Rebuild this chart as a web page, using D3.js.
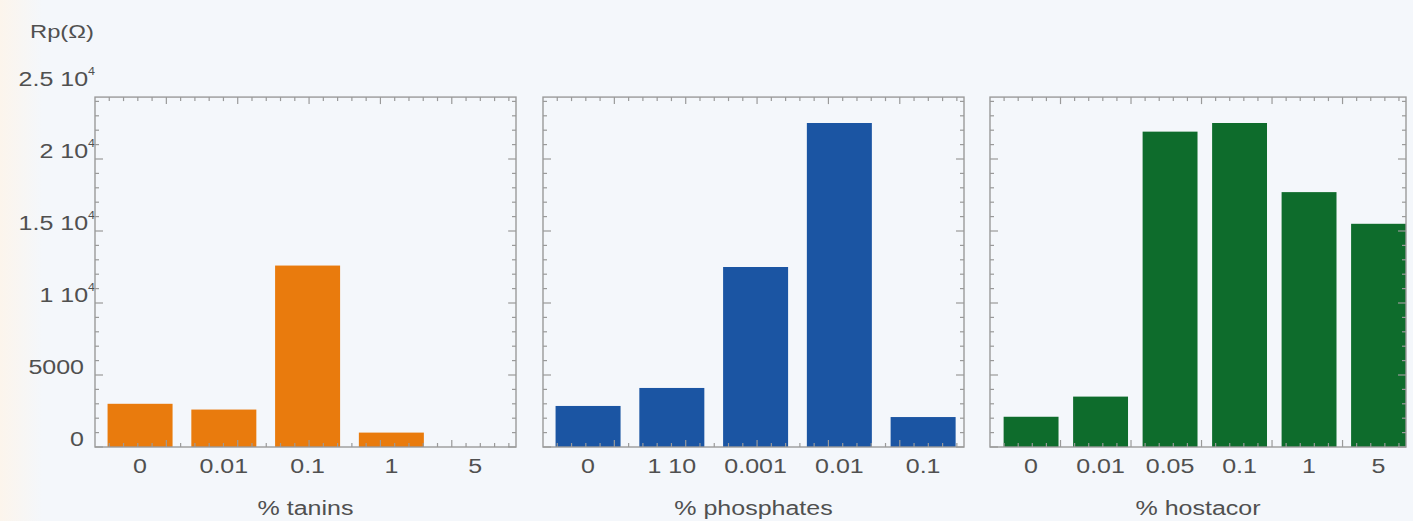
<!DOCTYPE html>
<html>
<head>
<meta charset="utf-8">
<script src="https://cdn.jsdelivr.net/npm/d3@7"></script>
<style>
  html, body { margin: 0; padding: 0; background: #f4f7fb; }
  svg { display: block; }
  text { font-family: "Liberation Sans", Arial, Helvetica, sans-serif; fill: #505050; }
</style>
</head>
<body>
<svg id="chart" width="1413" height="521"></svg>
<script>
"use strict";

// data
let taninCats = ["0", "0.01", "0.1", "1", "5"]
let taninValues = [3000, 2600, 12600, 1000, 0]
let phosphateCats = ["0", "1 10", "0.001", "0.01", "0.1"]
let phosphateValues = [2850, 4100, 12500, 22500, 2080]
let hostacorCats = ["0", "0.01", "0.05", "0.1", "1", "5"]
let hostacorValues = [2100, 3500, 21900, 22500, 17700, 15500]
let yTickValues = [0, 5000, 10000, 15000, 20000, 25000]
let yTickMantissa = ["0", "5000", "1", "1.5", "2", "2.5"]
let panelTitles = ["% tanins", "% phosphates", "% hostacor"]
let yLabel = "Rp(Ω)"

let barColors = ["#e97b0d", "#1b55a3", "#0e6c2c"]

const W = 1413, H = 521
const plotBottom = 447
const frameTopValue = 24300
const panelLeft = [95, 543, 990]
const panelRight = [516, 964, 1406]
const bandAlign = [0.6, 0.6, 1]
const bandPadInner = [0.224, 0.224, 0.21]
const bandPadOuter = [0.125, 0.125, 0.098]
const stretch = 1.25   // the scanned lettering is wide

const svg = d3.select("#chart")

// faint warm edge of the scan on the left
let grad = svg.append("defs").append("linearGradient").attr("id", "scan-edge")
grad.append("stop").attr("offset", "0%").attr("stop-color", "#fcf5ec")
grad.append("stop").attr("offset", "3%").attr("stop-color", "#f4f7fb")
grad.append("stop").attr("offset", "100%").attr("stop-color", "#f4f7fb")
svg.append("rect").attr("width", W).attr("height", H).attr("fill", "url(#scan-edge)")

// text placed with a horizontal stretch, x/y are the anchor point
function label(parent, x, y, anchor, size){
  return parent.append("text")
      .attr("transform", "translate(" + x + "," + y + ") scale(" + stretch + ",1)")
      .attr("text-anchor", anchor)
      .attr("font-size", size)
}

const y = d3.scaleLinear().domain([0, 25000]).range([plotBottom, 87])
const frameTop = y(frameTopValue)

// y tick labels on the far left, with 10^4 written as superscript
let yLab = svg.append("g").attr("class", "y-labels")
yTickValues.forEach((v, i) => {
  if (v >= 10000) {
    let t = label(yLab, 95, y(v) - 1, "end", 20)
    t.append("tspan").text(yTickMantissa[i] + " 10")
    t.append("tspan").attr("font-size", 10).attr("dy", -11).text("4")
  } else {
    label(yLab, 84, y(v) - 1, "end", 20).text(yTickMantissa[i])
  }
})

label(svg, 30, 38, "start", 19).text(yLabel)

function drawPanel(i, cats, values){
  let left = panelLeft[i], right = panelRight[i]
  let g = svg.append("g").attr("class", "panel-" + i)

  let x = d3.scaleBand()
      .domain(cats)
      .range([left, right])
      .paddingInner(bandPadInner[i])
      .paddingOuter(bandPadOuter[i])
      .align(bandAlign[i])

  // bars
  g.selectAll("rect.bar")
    .data(values)
    .join("rect")
      .attr("class", "bar")
      .attr("x", (d, k) => x(cats[k]))
      .attr("width", x.bandwidth())
      .attr("y", d => y(d))
      .attr("height", d => plotBottom - y(d))
      .attr("fill", barColors[i])

  // frame
  g.append("rect")
      .attr("x", left)
      .attr("y", frameTop)
      .attr("width", right - left)
      .attr("height", plotBottom - frameTop)
      .attr("fill", "none")
      .attr("stroke", "#9a9a9a")
      .attr("stroke-width", 1.4)

  // inward ticks on left and right sides, minor every 1000
  let yTicks = d3.range(0, frameTopValue, 1000)
  let tickLen = v => (v % 5000 === 0 ? 8 : 4)
  g.selectAll("line.yl")
    .data(yTicks)
    .join("line")
      .attr("x1", left).attr("x2", v => left + tickLen(v))
      .attr("y1", v => y(v)).attr("y2", v => y(v))
      .attr("stroke", "#9a9a9a").attr("stroke-width", 1.2)
  g.selectAll("line.yr")
    .data(yTicks)
    .join("line")
      .attr("x1", right).attr("x2", v => right - tickLen(v))
      .attr("y1", v => y(v)).attr("y2", v => y(v))
      .attr("stroke", "#9a9a9a").attr("stroke-width", 1.2)

  // top and bottom border ticks, independent of the bands
  let tx = d3.scaleLinear().domain([0, 29.5]).range([left, right])
  let xTicks = d3.range(1, 30)
  g.selectAll("line.xt")
    .data(xTicks)
    .join("line")
      .attr("x1", k => tx(k)).attr("x2", k => tx(k))
      .attr("y1", frameTop).attr("y2", k => frameTop + (k % 5 === 0 ? 7 : 4))
      .attr("stroke", "#9a9a9a").attr("stroke-width", 1.2)
  g.selectAll("line.xb")
    .data(xTicks)
    .join("line")
      .attr("x1", k => tx(k)).attr("x2", k => tx(k))
      .attr("y1", plotBottom).attr("y2", k => plotBottom - (k % 5 === 0 ? 7 : 4))
      .attr("stroke", "#9a9a9a").attr("stroke-width", 1.2)

  // category labels
  cats.forEach(c => {
    label(g, x(c) + x.bandwidth() / 2, 473, "middle", 20).text(c)
  })

  label(g, (left + right) / 2, 515, "middle", 20).text(panelTitles[i])
}

drawPanel(0, taninCats, taninValues)
drawPanel(1, phosphateCats, phosphateValues)
drawPanel(2, hostacorCats, hostacorValues)
</script>
</body>
</html>
